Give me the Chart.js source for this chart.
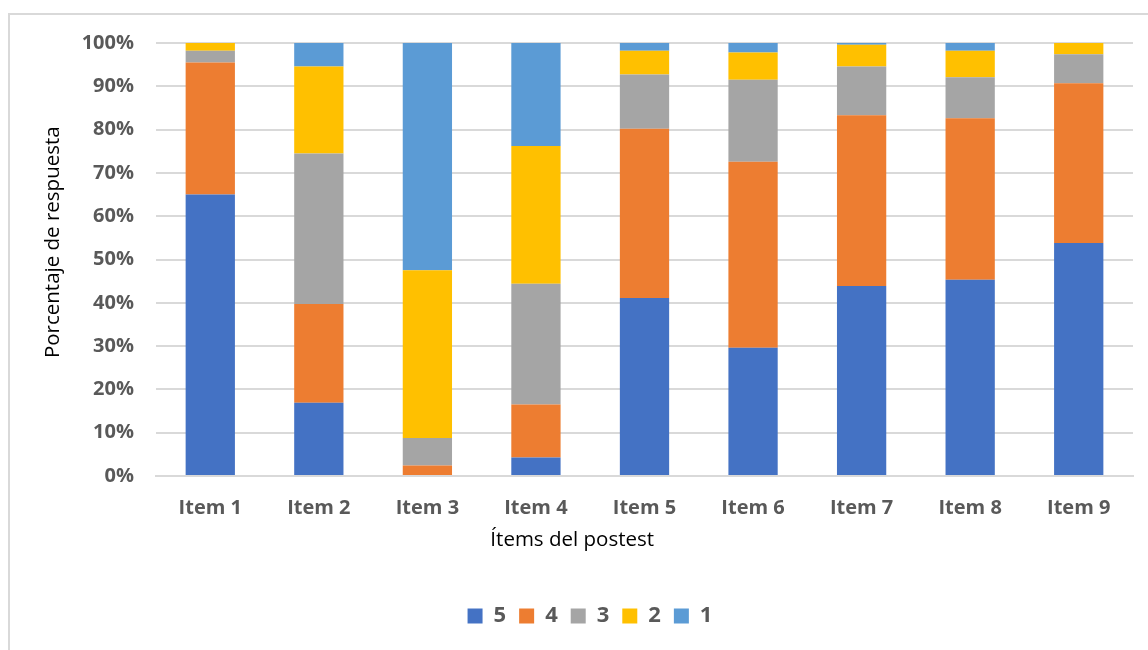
<!DOCTYPE html>
<html>
<head>
<meta charset="utf-8">
<script src="https://cdn.jsdelivr.net/npm/chart.js@4"></script>
<style>
  html, body { margin: 0; padding: 0; background: #fff; }
  #wrap { position: relative; width: 1148px; height: 650px; }
</style>
</head>
<body>
<div id="wrap"><canvas id="chart-canvas" width="1148" height="650"></canvas></div>
<script>
//
// DATA
//

const categories = ["Item 1", "Item 2", "Item 3", "Item 4", "Item 5", "Item 6", "Item 7", "Item 8", "Item 9"];
const seriesNames = ["5", "4", "3", "2", "1"];
const values5 = [65.0, 16.9, 0.0, 4.3, 41.1, 29.6, 43.9, 45.3, 53.8];
const values4 = [30.5, 22.8, 2.4, 12.2, 39.1, 43.0, 39.4, 37.3, 36.9];
const values3 = [2.7, 34.8, 6.4, 27.9, 12.5, 18.9, 11.3, 9.5, 6.7];
const values2 = [1.8, 20.1, 38.7, 31.8, 5.5, 6.3, 5.0, 6.1, 2.6];
const values1 = [0.0, 5.4, 52.5, 23.8, 1.8, 2.2, 0.4, 1.8, 0.0];
const yTicks = [0, 10, 20, 30, 40, 50, 60, 70, 80, 90, 100];
const xTitle = "Ítems del postest";
const yTitle = "Porcentaje de respuesta";

//
// HELPERS
//

const colors = ["#4472C4", "#ED7D31", "#A5A5A5", "#FFC000", "#5B9BD5"];
const FONT = "'Open Sans', Lato, sans-serif";

function makeDataset(label, data, color) {
  return {
    label: label,
    data: data,
    backgroundColor: color,
    borderWidth: 0,
    barPercentage: 0.454,
    categoryPercentage: 1.0,
  };
}

// light frame round the chart, like the exported picture
const framePlugin = {
  id: "frame",
  beforeDraw(chart) {
    const ctx = chart.ctx;
    ctx.save();
    ctx.strokeStyle = "#d9d9d9";
    ctx.lineWidth = 2;
    ctx.beginPath();
    ctx.moveTo(9, 650);
    ctx.lineTo(9, 14);
    ctx.lineTo(1148, 14);
    ctx.stroke();
    ctx.restore();
  },
};

// axis titles sit a bit off centre in the original, so draw them by hand
const axisTitlePlugin = {
  id: "axisTitles",
  afterDraw(chart) {
    const ctx = chart.ctx;
    const area = chart.chartArea;
    ctx.save();
    ctx.fillStyle = "#000";
    ctx.font = "20.5px " + FONT;
    ctx.textAlign = "center";
    ctx.textBaseline = "middle";
    ctx.fillText(xTitle, area.left + (area.right - area.left) * 0.426, area.bottom + 64);
    ctx.translate(53, area.top + (area.bottom - area.top) * 0.46);
    ctx.rotate(-Math.PI / 2);
    ctx.fillText(yTitle, 0, 0);
    ctx.restore();
  },
};

//
// CHART
//

const allValues = [values5, values4, values3, values2, values1];

new Chart(document.getElementById("chart-canvas"), {
  type: "bar",
  data: {
    labels: categories,
    datasets: seriesNames.map((name, i) => makeDataset(name, allValues[i], colors[i])),
  },
  options: {
    responsive: false,
    animation: false,
    layout: { padding: { top: 43, right: 15, bottom: 13, left: 47 } },
    plugins: {
      tooltip: { enabled: false },
      legend: {
        position: "bottom",
        labels: {
          boxWidth: 15,
          boxHeight: 15,
          padding: 13,
          color: "#595959",
          font: { family: FONT, size: 22, weight: "bold" },
        },
      },
    },
    scales: {
      x: {
        stacked: true,
        afterFit(scale) { scale.height = 116; },
        grid: { display: false, drawTicks: false },
        border: { display: true, color: "#d9d9d9", width: 2 },
        ticks: {
          padding: 20,
          color: "#595959",
          font: { family: FONT, size: 20, weight: "bold" },
        },
      },
      y: {
        stacked: true,
        min: 0,
        max: 100,
        afterFit(scale) { scale.width = 109; },
        afterBuildTicks(scale) { scale.ticks = yTicks.map((v) => ({ value: v })); },
        grid: { color: "#d9d9d9", lineWidth: 2, drawTicks: false },
        border: { display: false },
        ticks: {
          padding: 22,
          color: "#595959",
          font: { family: FONT, size: 20, weight: "bold" },
          callback: (v) => v + "%",
        },
      },
    },
  },
  plugins: [framePlugin, axisTitlePlugin],
});
</script>
</body>
</html>
